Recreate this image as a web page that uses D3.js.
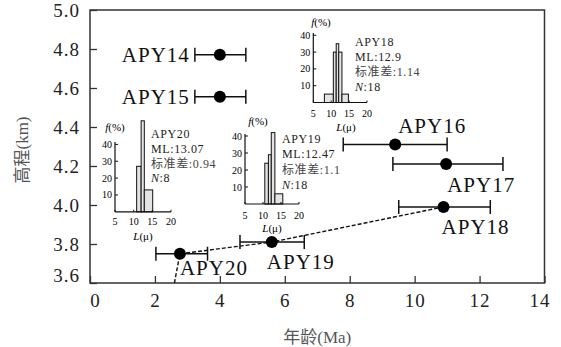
<!DOCTYPE html>
<html>
<head>
<meta charset="utf-8">
<script src="https://cdn.jsdelivr.net/npm/d3@7/dist/d3.min.js"></script>
<style>
  body { margin: 0; background: #fff; }
  svg { display: block; font-family: "Liberation Serif", "Noto Sans CJK SC", serif; }
</style>
</head>
<body>
<div id="chart"></div>
<script>
// main samples: age (Ma) with range, elevation (km)
const samples = ["APY14", "APY15", "APY16", "APY17", "APY18", "APY19", "APY20"];
const ages = [4.0, 4.0, 9.4, 10.97, 10.89, 5.6, 2.77];
const ageLow = [3.23, 3.23, 7.8, 9.33, 9.51, 4.62, 2.03];
const ageHigh = [4.8, 4.8, 11.0, 12.72, 12.33, 6.6, 3.62];
const elevations = [4.77, 4.555, 4.31, 4.21, 3.99, 3.81, 3.75];

// dashed trend
const trendAges = [2.6, 2.77, 5.6, 10.89];
const trendElev = [3.6, 3.75, 3.81, 3.99];

const xTicks = [0, 2, 4, 6, 8, 10, 12, 14];
const yTicks = [3.6, 3.8, 4.0, 4.2, 4.4, 4.6, 4.8, 5.0];

// track length histograms
const histNames = ["APY20", "APY19", "APY18"];
const histML = ["13.07", "12.47", "12.9"];
const histSD = ["0.94", "1.1", "1.14"];
const histN = ["8", "18", "18"];
const histEdges = [
  [10.8, 12.0, 12.85, 15.1],
  [10.5, 11.5, 12.3, 13.3, 15.5],
  [8.1, 10.6, 11.4, 12.1, 13.0, 14.8]
];
const histFreq = [
  [27, 54, 13],
  [24, 29, 42, 6],
  [5, 30, 35, 30, 5]
];
const histXTicks = [5, 10, 15, 20];
const histYTicks = [10, 20, 30, 40];

const width = 561, height = 347;

const svg = d3.select("#chart").append("svg")
  .attr("width", width)
  .attr("height", height);

const x = d3.scaleLinear().domain([0, 14]).range([90, 544.5]);
const y = d3.scaleLinear().domain([3.6, 5.0]).range([283, 10]);

// axes (inward ticks)
const xAxis = svg.append("g")
  .attr("transform", `translate(0,${y(3.6)})`)
  .call(d3.axisBottom(x).tickValues(xTicks).tickSizeInner(-7).tickSizeOuter(0).tickPadding(11));
const yAxis = svg.append("g")
  .attr("transform", `translate(${x(0)},0)`)
  .call(d3.axisLeft(y).tickValues(yTicks).tickFormat(d3.format(".1f")).tickSizeInner(-7).tickSizeOuter(0).tickPadding(10));

[xAxis, yAxis].forEach(a => {
  a.select(".domain").remove();
  a.selectAll(".tick line").attr("stroke", "#333").attr("stroke-width", 1.3);
  a.selectAll(".tick text")
    .attr("fill", "#222")
    .attr("font-size", "19px")
    .attr("font-family", "Liberation Serif")
    .style("letter-spacing", "1px");
});
xAxis.selectAll(".tick text").filter(d => d === 0).attr("dx", 5);
xAxis.selectAll(".tick text").filter(d => d === 14).attr("dx", -5);
yAxis.selectAll(".tick text").filter(d => d === 3.6).attr("dy", "-0.1em");

// frame
svg.append("rect")
  .attr("x", x(0)).attr("y", y(5.0))
  .attr("width", x(14) - x(0)).attr("height", y(3.6) - y(5.0))
  .attr("fill", "none").attr("stroke", "#333").attr("stroke-width", 1.5);

// axis titles
svg.append("text")
  .attr("x", (x(0) + x(14)) / 2).attr("y", 337.5)
  .attr("dy", "0.35em")
  .attr("text-anchor", "middle")
  .attr("font-size", "17px")
  .attr("fill", "#555")
  .text("年龄(Ma)");

svg.append("text")
  .attr("transform", "translate(22,150) rotate(-90)")
  .attr("dy", "0.35em")
  .attr("text-anchor", "middle")
  .attr("font-size", "17px")
  .attr("fill", "#555")
  .text("高程(km)");

// histogram insets
const insetLayout = [
  { x0: 115, x1: 171, base: 211.8, top40: 144.4, axisTop: 142, fx: 115, fy: 127, lx: 143, ly: 236, tickY: 221, tx: 151, ty: [134, 149, 163.5, 178] },
  { x0: 245, x1: 299, base: 204, top40: 136, axisTop: 134, fx: 258, fy: 121, lx: 272, ly: 228, tickY: 215, tx: 282, ty: [138.3, 153.3, 169.3, 184.3] },
  { x0: 313.3, x1: 367, base: 102.5, top40: 35.3, axisTop: 33, fx: 321, fy: 22, lx: 346, ly: 127, tickY: 113, tx: 355, ty: [42, 57, 72, 87] }
];

histNames.forEach((name, i) => {
  const L = insetLayout[i];
  const hx = d3.scaleLinear().domain([5, 20]).range([L.x0, L.x1]);
  const hy = d3.scaleLinear().domain([0, 40]).range([L.base, L.top40]);
  const g = svg.append("g");

  const bins = histFreq[i].map((f, j) => ({ a: histEdges[i][j], b: histEdges[i][j + 1], f }));
  g.selectAll("rect")
    .data(bins)
    .enter()
    .append("rect")
    .attr("x", d => hx(d.a))
    .attr("y", d => hy(d.f))
    .attr("width", d => hx(d.b) - hx(d.a))
    .attr("height", d => hy(0) - hy(d.f))
    .attr("fill", "#e4e4e4")
    .attr("stroke", "#111")
    .attr("stroke-width", 1);

  // axes of inset
  g.append("line")
    .attr("x1", L.x0).attr("x2", L.x0)
    .attr("y1", L.base).attr("y2", L.axisTop)
    .attr("stroke", "#111").attr("stroke-width", 1.2);
  g.append("line")
    .attr("x1", L.x0).attr("x2", hx(20))
    .attr("y1", L.base).attr("y2", L.base)
    .attr("stroke", "#111").attr("stroke-width", 1.2);

  g.selectAll(".yt")
    .data(histYTicks)
    .enter()
    .append("line")
    .attr("x1", L.x0).attr("x2", L.x0 + 3)
    .attr("y1", d => hy(d)).attr("y2", d => hy(d))
    .attr("stroke", "#111");
  g.selectAll(".yl")
    .data(histYTicks)
    .enter()
    .append("text")
    .attr("x", L.x0 - 3).attr("y", d => hy(d))
    .attr("dy", "0.35em")
    .attr("text-anchor", "end")
    .attr("font-size", "10px")
    .text(d => d);

  g.selectAll(".xt")
    .data(histXTicks)
    .enter()
    .append("line")
    .attr("x1", d => hx(d)).attr("x2", d => hx(d))
    .attr("y1", L.base).attr("y2", L.base - 2)
    .attr("stroke", "#111");
  g.selectAll(".xl")
    .data(histXTicks)
    .enter()
    .append("text")
    .attr("x", d => hx(d)).attr("y", L.tickY)
    .attr("dy", "0.35em")
    .attr("text-anchor", "middle")
    .attr("font-size", "10px")
    .text(d => d);

  const fl = g.append("text")
    .attr("x", L.fx).attr("y", L.fy)
    .attr("dy", "0.35em")
    .attr("text-anchor", "middle")
    .attr("font-size", "11px");
  fl.append("tspan").attr("font-style", "italic").text("f");
  fl.append("tspan").text("(%)");

  const ll = g.append("text")
    .attr("x", L.lx).attr("y", L.ly)
    .attr("dy", "0.35em")
    .attr("text-anchor", "middle")
    .attr("font-size", "11px");
  ll.append("tspan").attr("font-style", "italic").text("L");
  ll.append("tspan").text("(μ)");

  const lines = [name, "ML:" + histML[i], "标准差:" + histSD[i], null];
  lines.forEach((t, k) => {
    const txt = g.append("text")
      .attr("x", L.tx).attr("y", L.ty[k])
      .attr("dy", "0.35em")
      .attr("font-size", "12px")
      .attr("fill", k === 2 ? "#444" : "#222")
      .style("letter-spacing", "0.6px");
    if (t === null) {
      txt.append("tspan").attr("font-style", "italic").text("N");
      txt.append("tspan").text(":" + histN[i]);
    } else {
      txt.text(t);
    }
  });
});

// dashed trend line
const trend = trendAges.map((a, i) => [x(a), y(trendElev[i])]);
svg.append("path")
  .attr("d", d3.line()(trend))
  .attr("fill", "none")
  .attr("stroke", "#111")
  .attr("stroke-width", 1.4)
  .attr("stroke-dasharray", "4,2");

// error bars and points
const data = samples.map((s, i) => ({ s, age: ages[i], lo: ageLow[i], hi: ageHigh[i], el: elevations[i] }));

const pts = svg.append("g");
pts.selectAll(".err")
  .data(data)
  .enter()
  .append("line")
  .attr("x1", d => x(d.lo)).attr("x2", d => x(d.hi))
  .attr("y1", d => y(d.el)).attr("y2", d => y(d.el))
  .attr("stroke", "#111").attr("stroke-width", 1.5);
pts.selectAll(".capL")
  .data(data)
  .enter()
  .append("line")
  .attr("x1", d => x(d.lo)).attr("x2", d => x(d.lo))
  .attr("y1", d => y(d.el) - 7).attr("y2", d => y(d.el) + 7)
  .attr("stroke", "#111").attr("stroke-width", 1.5);
pts.selectAll(".capR")
  .data(data)
  .enter()
  .append("line")
  .attr("x1", d => x(d.hi)).attr("x2", d => x(d.hi))
  .attr("y1", d => y(d.el) - 7).attr("y2", d => y(d.el) + 7)
  .attr("stroke", "#111").attr("stroke-width", 1.5);
pts.selectAll("circle")
  .data(data)
  .enter()
  .append("circle")
  .attr("cx", d => x(d.age))
  .attr("cy", d => y(d.el))
  .attr("r", 6)
  .attr("fill", "#000");

// sample labels
const labelPos = {
  APY14: { ref: "lo", dx: -5, dy: 7, anchor: "end" },
  APY15: { ref: "lo", dx: -5, dy: 7, anchor: "end" },
  APY16: { ref: "age", dx: 3, dy: -12, anchor: "start" },
  APY17: { ref: "age", dx: 1, dy: 28, anchor: "start" },
  APY18: { ref: "age", dx: -2, dy: 27, anchor: "start" },
  APY19: { ref: "age", dx: -5, dy: 27, anchor: "start" },
  APY20: { ref: "age", dx: 0, dy: 21, anchor: "start" }
};

pts.selectAll(".lab")
  .data(data)
  .enter()
  .append("text")
  .attr("x", d => x(d[labelPos[d.s].ref]) + labelPos[d.s].dx)
  .attr("y", d => y(d.el) + labelPos[d.s].dy)
  .attr("text-anchor", d => labelPos[d.s].anchor)
  .attr("font-size", "21px")
  .attr("fill", "#111")
  .style("letter-spacing", "1px")
  .text(d => d.s);
</script>
</body>
</html>
